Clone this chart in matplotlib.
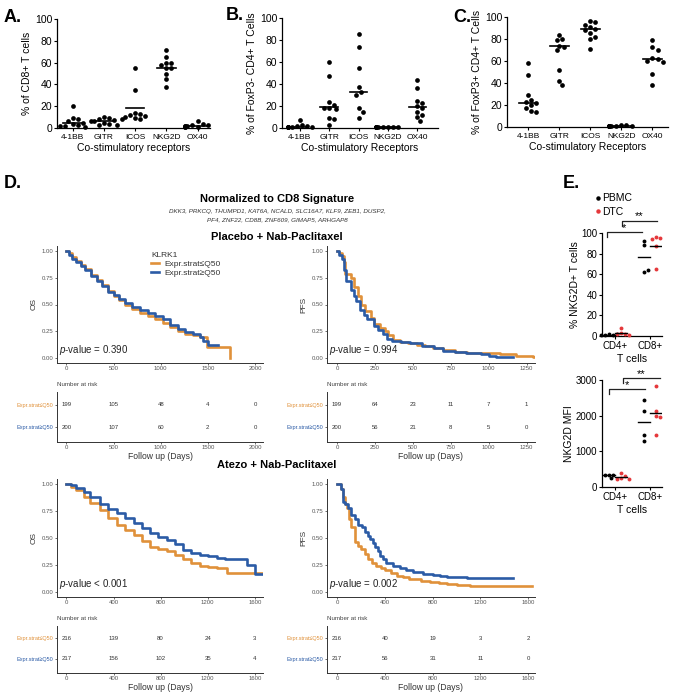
import numpy as np
import matplotlib
matplotlib.use("Agg")
import matplotlib.pyplot as plt
from matplotlib.lines import Line2D

plt.rcParams['font.family'] = ['Liberation Sans', 'DejaVu Sans']
plt.rcParams['mathtext.fontset'] = 'custom'
plt.rcParams['mathtext.rm'] = 'Liberation Sans'
plt.rcParams['mathtext.it'] = 'Liberation Sans:italic'

# ---------------- data: panels A-C ----------------
receptors = ['4-1BB', 'GITR', 'ICOS', 'NKG2D', 'OX40']

a_41bb = [20, 9, 8, 6, 5, 4, 3, 2, 2, 1]
a_gitr = [10, 9, 8, 7, 6, 6, 5, 4, 3, 3]
a_icos = [55, 35, 14, 13, 12, 11, 10, 9, 8, 8]
a_nkg2d = [72, 65, 60, 60, 58, 55, 55, 50, 45, 38]
a_ox40 = [6, 4, 3, 3, 2, 2, 2, 1, 1, 1]
a_lines = [5, 6, 18, 55, 2]

b_41bb = [7, 3, 2, 2, 1, 1, 1, 0.5, 0.5, 0.5]
b_gitr = [60, 47, 24, 21, 18, 18, 17, 9, 8, 3]
b_icos = [85, 74, 55, 37, 33, 30, 18, 15, 9]
b_nkg2d = [1, 1, 0.5, 0.5, 0.5, 0.5, 0.5, 0.5, 0.5]
b_ox40 = [44, 36, 25, 23, 20, 18, 15, 12, 10, 6]
b_lines = [1, 19, 33, 0.5, 19]

c_41bb = [58, 47, 29, 25, 23, 22, 20, 17, 15, 14]
c_gitr = [84, 80, 79, 74, 73, 70, 52, 42, 38]
c_icos = [96, 95, 93, 91, 89, 88, 85, 82, 80, 71]
c_nkg2d = [2, 1.5, 1, 1, 1, 1, 0.5, 0.5, 0.5, 0.5]
c_ox40 = [79, 73, 70, 63, 62, 60, 59, 48, 38]
c_lines = [22, 74, 89, 1, 62]

# ---------------- data: panel D (KM curves) ----------------
pl_os_lo_t = [0, 30, 60, 100, 150, 200, 260, 320, 380, 440, 500, 560, 620, 700, 780, 860, 940,
              1020, 1100, 1180, 1260, 1340, 1420, 1490, 1735, 1740]
pl_os_lo_s = [1.0, 0.98, 0.95, 0.91, 0.87, 0.83, 0.78, 0.73, 0.68, 0.63, 0.58, 0.54, 0.50, 0.46,
              0.42, 0.39, 0.36, 0.33, 0.29, 0.25, 0.22, 0.21, 0.19, 0.10, 0.0, 0.0]
pl_os_hi_t = [0, 30, 60, 100, 150, 200, 260, 320, 380, 440, 500, 560, 620, 700, 780, 860, 940,
              1020, 1100, 1180, 1260, 1340, 1420, 1450, 1500, 1612]
pl_os_hi_s = [1.0, 0.97, 0.93, 0.90, 0.86, 0.82, 0.77, 0.72, 0.67, 0.62, 0.59, 0.55, 0.51, 0.48,
              0.45, 0.42, 0.39, 0.36, 0.31, 0.27, 0.24, 0.22, 0.19, 0.16, 0.12, 0.12]

pl_pfs_lo_t = [0, 15, 30, 45, 55, 95, 110, 139, 160, 183, 227, 245, 282, 315, 337, 370, 414, 470,
               524, 580, 634, 700, 780, 854, 950, 1074, 1180, 1294, 1305]
pl_pfs_lo_s = [1.0, 0.98, 0.96, 0.90, 0.79, 0.75, 0.66, 0.58, 0.50, 0.44, 0.37, 0.32, 0.28, 0.25,
               0.21, 0.17, 0.15, 0.14, 0.12, 0.11, 0.09, 0.07, 0.05, 0.045, 0.04, 0.03, 0.02, 0.01, 0.01]
pl_pfs_hi_t = [0, 15, 30, 45, 60, 90, 110, 125, 150, 175, 200, 245, 270, 300, 330, 360, 420, 480,
               560, 640, 700, 780, 850, 950, 1000, 1050, 1162]
pl_pfs_hi_s = [1.0, 0.97, 0.93, 0.82, 0.72, 0.64, 0.58, 0.53, 0.45, 0.40, 0.36, 0.30, 0.26, 0.22,
               0.18, 0.16, 0.15, 0.14, 0.11, 0.09, 0.06, 0.05, 0.04, 0.03, 0.02, 0.01, 0.01]

at_os_lo_t = [0, 40, 80, 147, 200, 288, 350, 429, 500, 570, 640, 711, 780, 852, 920, 993, 1060,
              1134, 1200, 1275, 1360, 1670]
at_os_lo_s = [1.0, 0.98, 0.95, 0.88, 0.83, 0.76, 0.69, 0.62, 0.57, 0.53, 0.47, 0.42, 0.40, 0.375,
              0.34, 0.30, 0.27, 0.24, 0.23, 0.22, 0.175, 0.175]
at_os_hi_t = [0, 40, 80, 147, 200, 288, 350, 429, 500, 570, 640, 711, 780, 852, 920, 993, 1060,
              1134, 1200, 1275, 1350, 1416, 1535, 1600, 1670]
at_os_hi_s = [1.0, 0.99, 0.97, 0.93, 0.88, 0.82, 0.77, 0.73, 0.69, 0.64, 0.59, 0.545, 0.51, 0.48,
              0.44, 0.39, 0.36, 0.345, 0.33, 0.31, 0.30, 0.30, 0.25, 0.165, 0.165]

at_pfs_lo_t = [0, 36, 50, 64, 80, 100, 120, 150, 175, 200, 230, 260, 295, 330, 365, 400, 450, 500,
               550, 600, 700, 780, 850, 920, 1000, 1110, 1628]
at_pfs_lo_s = [1.0, 0.96, 0.88, 0.82, 0.78, 0.68, 0.60, 0.46, 0.43, 0.40, 0.35, 0.30, 0.27, 0.24,
               0.22, 0.20, 0.17, 0.15, 0.14, 0.12, 0.10, 0.09, 0.08, 0.07, 0.06, 0.05, 0.05]
at_pfs_hi_t = [0, 36, 50, 64, 92, 120, 150, 176, 205, 232, 255, 274, 300, 316, 340, 357, 385, 413,
               470, 525, 580, 637, 720, 804, 860, 916, 1000, 1083, 1474]
at_pfs_hi_s = [1.0, 0.96, 0.84, 0.82, 0.78, 0.71, 0.68, 0.62, 0.60, 0.56, 0.52, 0.49, 0.45, 0.42,
               0.38, 0.33, 0.30, 0.27, 0.24, 0.22, 0.20, 0.18, 0.165, 0.155, 0.145, 0.14, 0.135, 0.13, 0.13]

strata = ['Expr.strat\u2264Q50', 'Expr.strat\u2265Q50']
pl_os_times = [0, 500, 1000, 1500, 2000]
pl_os_risk = [[199, 105, 48, 4, 0], [200, 107, 60, 2, 0]]
pl_pfs_times = [0, 250, 500, 750, 1000, 1250]
pl_pfs_risk = [[199, 64, 23, 11, 7, 1], [200, 56, 21, 8, 5, 0]]
at_times = [0, 400, 800, 1200, 1600]
at_os_risk = [[216, 139, 80, 24, 3], [217, 156, 102, 35, 4]]
at_pfs_risk = [[216, 40, 19, 3, 2], [217, 56, 31, 11, 0]]

# ---------------- data: panel E ----------------
e_cells = ['CD4+', 'CD8+']
e_pct_pbmc = [[2, 1, 1, 2, 1], [92, 88, 62, 64]]
e_pct_dtc = [[8, 3, 2, 2, 1], [96, 95, 94, 87, 65]]
e_mfi_pbmc = [[350, 350, 330, 260], [2450, 2120, 1465, 1296]]
e_mfi_dtc = [[380, 300, 250, 230, 220], [2826, 2120, 1980, 1970, 1465]]

ORANGE = '#E0913A'
BLUE = '#2B5BA6'
RED = '#E5383B'
GREY = '#555555'

W, H = 676, 699
fig = plt.figure(figsize=(W / 100, H / 100), dpi=100)


def add_ax(x0, y0, x1, y1):
    # pixel box (top-left origin) -> figure axes
    return fig.add_axes([x0 / W, 1 - y1 / H, (x1 - x0) / W, (y1 - y0) / H])


def ftext(x, y, s, **kw):
    fig.text(x / W, 1 - y / H, s, **kw)


def swarm(vals, xpx, ypx, d):
    # simple beeswarm: shift points sideways when they would overlap
    placed, offs = [], []
    for v in vals:
        for k in [0, 1, -1, 2, -2, 3, -3, 4, -4, 5, -5]:
            x = k * d * 0.55 / xpx
            if all(((x - px) * xpx) ** 2 + ((v - py) * ypx) ** 2 >= d ** 2 for px, py in placed):
                break
        placed.append((x, v))
        offs.append(x)
    return np.array(offs)


def dot_panel(ax, groups, lines, ylabel, xlim):
    for i, (vals, m) in enumerate(zip(groups, lines)):
        off = swarm(vals, 31, 1.1, 4.6)
        ax.plot(i + off, vals, 'o', color='black', ms=3.4, mew=0, clip_on=False, zorder=3)
        ax.plot([i - 0.3, i + 0.3], [m, m], color='black', lw=1.2, zorder=4)
    ax.set_xlim(*xlim)
    ax.set_ylim(0, 100)
    ax.set_xticks(range(len(receptors)))
    ax.set_xticklabels(receptors, fontsize=6)
    ax.set_yticks(range(0, 101, 20))
    ax.tick_params(axis='y', labelsize=7.5, length=2.5, width=0.8, pad=1)
    ax.tick_params(axis='x', length=2.5, width=0.8, pad=1.5)
    ax.set_ylabel(ylabel, fontsize=7.5, labelpad=2)
    ax.set_xlabel('Co-stimulatory ' + ('receptors' if 'CD8' in ylabel else 'Receptors'),
                  fontsize=7.5, labelpad=2)
    for s in ['top', 'right']:
        ax.spines[s].set_visible(False)
    for s in ['left', 'bottom']:
        ax.spines[s].set_linewidth(0.9)


# ---- A, B, C ----
axA = add_ax(57, 19, 210, 128)
dot_panel(axA, [a_41bb, a_gitr, a_icos, a_nkg2d, a_ox40], a_lines, '% of CD8+ T cells', (-0.5, 4.4))
axB = add_ax(282, 18, 438, 128)
dot_panel(axB, [b_41bb, b_gitr, b_icos, b_nkg2d, b_ox40], b_lines, '% of FoxP3- CD4+ T Cells', (-0.6, 4.7))
axC = add_ax(507, 17, 668, 127)
dot_panel(axC, [c_41bb, c_gitr, c_icos, c_nkg2d, c_ox40], c_lines, '% of FoxP3+ CD4+ T Cells', (-0.68, 4.5))

ftext(4, 17, 'A.', fontsize=13, fontweight='bold', va='center')
ftext(226, 16, 'B.', fontsize=13, fontweight='bold', va='center')
ftext(453, 17, 'C.', fontsize=13, fontweight='bold', va='center')
ftext(4, 183, 'D.', fontsize=13, fontweight='bold', va='center')
ftext(563, 183, 'E.', fontsize=13, fontweight='bold', va='center')

# ---- D titles ----
ftext(277, 199, 'Normalized to CD8 Signature', fontsize=8, fontweight='bold', ha='center', va='center')
ftext(277, 211, 'DKK3, PRKCQ, THUMPD1, KAT6A, NCALD, SLC16A7, KLF9, ZEB1, DUSP2,',
      fontsize=4.5, style='italic', ha='center', va='center', color='#333333')
ftext(277, 220, 'PF4, ZNF22, CD8B, ZNF609, GIMAP5, ARHGAP8',
      fontsize=4.5, style='italic', ha='center', va='center', color='#333333')
ftext(277, 237, 'Placebo + Nab-Paclitaxel', fontsize=8, fontweight='bold', ha='center', va='center')
ftext(277, 465, 'Atezo + Nab-Paclitaxel', fontsize=8, fontweight='bold', ha='center', va='center')


def style_small(ax):
    for s in ['top', 'right']:
        ax.spines[s].set_visible(False)
    for s in ['left', 'bottom']:
        ax.spines[s].set_linewidth(0.7)
        ax.spines[s].set_color('#333333')
    ax.tick_params(labelsize=4.3, length=1.5, width=0.5, pad=1, colors='#333333', labelcolor=GREY)


def km_panel(ax, curves, xlim, xticks, ylabel, pval):
    for t, s, c in curves:
        ax.step(t, s, where='post', color=c, lw=1.9)
    ax.set_xlim(*xlim)
    ax.set_ylim(-0.05, 1.05)
    ax.set_xticks(xticks)
    ax.set_yticks([0, 0.25, 0.5, 0.75, 1.0])
    ax.set_yticklabels(['0.00', '0.25', '0.50', '0.75', '1.00'])
    ax.set_ylabel(ylabel, fontsize=6, labelpad=3, color='#333333')
    style_small(ax)
    ax.text(0.012, 0.11, r'$\it{p}$' + pval, transform=ax.transAxes, fontsize=7,
            va='center', ha='left', color='#222222')


def risk_panel(ax, times, rows, xlim, top_px, x0_px):
    for j, row in enumerate(rows):
        for t, n in zip(times, row):
            ax.text(t, 2 - j, str(n), ha='center', va='center', fontsize=4.3, color='#333333')
    ax.set_xlim(*xlim)
    ax.set_ylim(0.32, 2.59)
    ax.set_xticks(times)
    ax.set_yticks([2, 1])
    ax.set_yticklabels(strata)
    style_small(ax)
    ax.tick_params(axis='y', labelsize=4)
    for lbl, c in zip(ax.get_yticklabels(), [ORANGE, BLUE]):
        lbl.set_color(c)
    ax.set_xlabel('Follow up (Days)', fontsize=6.2, labelpad=1, color='#333333')
    ftext(x0_px, top_px - 7, 'Number at risk', fontsize=4.5, color='#444444', va='center')


ax = add_ax(57, 246, 263, 363)
km_panel(ax, [(pl_os_lo_t, pl_os_lo_s, ORANGE), (pl_os_hi_t, pl_os_hi_s, BLUE)],
         (-100, 2085), [0, 500, 1000, 1500, 2000], 'OS', '-value = 0.390')
leg = ax.legend(handles=[Line2D([], [], color=ORANGE, lw=1.9), Line2D([], [], color=BLUE, lw=1.9)],
                labels=strata, title='KLRK1', loc='upper left', bbox_to_anchor=(0.43, 1.0),
                frameon=False, fontsize=6, title_fontsize=6, handlelength=0.9, handletextpad=0.6,
                labelspacing=0.15, borderpad=0.2, alignment='left')
for txt in leg.get_texts():
    txt.set_color('#333333')
leg.get_title().set_color('#333333')

ax = add_ax(327, 246, 535, 363)
km_panel(ax, [(pl_pfs_lo_t, pl_pfs_lo_s, ORANGE), (pl_pfs_hi_t, pl_pfs_hi_s, BLUE)],
         (-66, 1305), pl_pfs_times, 'PFS', '-value = 0.994')

ax = add_ax(57, 479, 263, 597)
km_panel(ax, [(at_os_lo_t, at_os_lo_s, ORANGE), (at_os_hi_t, at_os_hi_s, BLUE)],
         (-80, 1670), at_times, 'OS', '-value < 0.001')

ax = add_ax(327, 479, 535, 597)
km_panel(ax, [(at_pfs_lo_t, at_pfs_lo_s, ORANGE), (at_pfs_hi_t, at_pfs_hi_s, BLUE)],
         (-84, 1656), at_times, 'PFS', '-value = 0.002')

risk_panel(add_ax(57, 392, 263, 442), pl_os_times, pl_os_risk, (-100, 2085), 392, 57)
risk_panel(add_ax(327, 392, 535, 442), pl_pfs_times, pl_pfs_risk, (-66, 1305), 392, 327)
risk_panel(add_ax(57, 626, 263, 673), at_times, at_os_risk, (-80, 1670), 626, 57)
risk_panel(add_ax(327, 626, 535, 673), at_times, at_pfs_risk, (-84, 1656), 626, 327)


# ---- E ----
def e_panel(ax, pbmc, dtc, ylim, yticks, ylabel, ypx, brackets):
    for i in range(len(e_cells)):
        for vals, c, dx in [(pbmc[i], 'black', -0.17), (dtc[i], RED, 0.17)]:
            off = swarm(vals, 35, ypx, 3.6)
            ax.plot(i + dx + off, vals, 'o', color=c, ms=2.8, mew=0, clip_on=False, zorder=3)
            m = np.mean(vals)
            ax.plot([i + dx - 0.17, i + dx + 0.17], [m, m], color='black', lw=1.0, zorder=4)
    for x0, x1, y, ytick, star, ys in brackets:
        ax.plot([x0, x0, x1], [ytick, y, y], color='#222222', lw=0.9, clip_on=False)
        ax.text((x0 + x1) / 2, ys, star, ha='center', va='center', fontsize=8, clip_on=False)
    ax.set_xlim(-0.37, 1.34)
    ax.set_ylim(*ylim)
    ax.set_yticks(yticks)
    ax.set_xticks(range(len(e_cells)))
    ax.set_xticklabels(e_cells)
    ax.tick_params(labelsize=7, length=2.5, width=0.8, pad=1)
    ax.set_ylabel(ylabel, fontsize=7.5, labelpad=1)
    ax.set_xlabel('T cells', fontsize=7.5, labelpad=2)
    for s in ['top', 'right']:
        ax.spines[s].set_visible(False)
    for s in ['left', 'bottom']:
        ax.spines[s].set_linewidth(0.9)


axE1 = add_ax(602, 233, 662, 336)
e_panel(axE1, e_pct_pbmc, e_pct_dtc, (0, 100), range(0, 101, 20), '% NKG2D+ T cells', 1.03,
        [(-0.23, 0.77, 101, 96, '*', 105), (0.2, 1.2, 112, 107, '**', 116)])
axE2 = add_ax(602, 380, 662, 487)
e_panel(axE2, e_mfi_pbmc, e_mfi_dtc, (0, 3000), [0, 1000, 2000, 3000], 'NKG2D MFI', 0.0357,
        [(-0.17, 0.86, 2750, 2610, '*', 2860), (0.23, 1.29, 3056, 2916, '**', 3170)])

axE1.legend(handles=[Line2D([], [], marker='o', ls='', color='black', ms=2.2),
                     Line2D([], [], marker='o', ls='', color=RED, ms=2.2)],
            labels=['PBMC', 'DTC'], loc='upper left', bbox_to_anchor=(591 / W, 1 - 188 / H),
            bbox_transform=fig.transFigure, frameon=False, fontsize=7.5, handlelength=0.4,
            handletextpad=0.2, labelspacing=0.35, borderpad=0)

fig.savefig('out.png', dpi=100)
